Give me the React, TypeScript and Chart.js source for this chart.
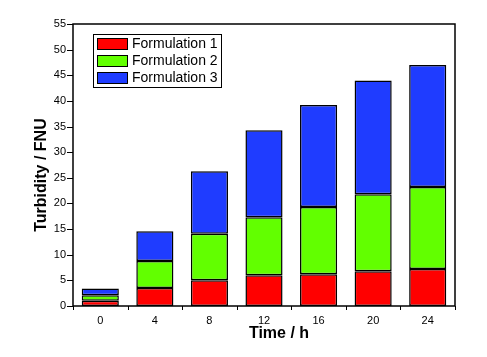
import { useEffect, useRef } from 'react';
import { Chart, registerables } from 'chart.js';

Chart.register(...registerables);

const categories = ['0', '4', '8', '12', '16', '20', '24'];
const formulation1 = [1.0, 3.5, 5.0, 6.0, 6.2, 6.8, 7.2];
const formulation2 = [1.1, 5.3, 9.1, 11.3, 13.1, 15.0, 16.0];
const formulation3 = [1.3, 5.8, 12.2, 17.0, 19.9, 22.2, 23.8];
const seriesLabels = ['Formulation 1', 'Formulation 2', 'Formulation 3'];
const seriesColors = ['#ff0000', '#62ff00', '#1f3cff'];
const yMin = 0;
const yMax = 55;
const yMinorStep = 2.5;
const yMajorStep = 5;
const xTitle = 'Time / h';
const yTitle = 'Turbidity / FNU';

const FONT = '"Liberation Sans", Arial, sans-serif';

const framePlugin = {
  id: 'originFrame',
  afterDraw(chart: any) {
    const { ctx, chartArea, scales } = chart;
    const { left, right, top, bottom } = chartArea;
    const xs = scales.x;
    const ys = scales.y;
    ctx.save();
    ctx.strokeStyle = '#000';
    ctx.lineWidth = 1.5;
    ctx.strokeRect(left, top, right - left, bottom - top);

    // y ticks (major + minor)
    ctx.lineWidth = 1;
    ctx.beginPath();
    for (const t of ys.ticks) {
      const y = Math.round(ys.getPixelForValue(t.value)) + 0.5;
      const major = Math.abs(t.value % yMajorStep) < 1e-6;
      const len = major ? 6 : 3.5;
      ctx.moveTo(left - len, y);
      ctx.lineTo(left, y);
    }
    // x ticks at category boundaries
    const n = categories.length;
    const half = (xs.getPixelForValue(1) - xs.getPixelForValue(0)) / 2;
    for (let i = 0; i <= n; i++) {
      const x = Math.round(xs.getPixelForValue(i) - half) + 0.5;
      ctx.moveTo(x, bottom);
      ctx.lineTo(x, bottom + 4);
    }
    ctx.stroke();

    // axis titles
    ctx.fillStyle = '#000';
    ctx.font = `bold 16px ${FONT}`;
    ctx.textAlign = 'center';
    ctx.textBaseline = 'middle';
    ctx.fillText(xTitle, 279, 334);
    ctx.save();
    ctx.translate(42, 175);
    ctx.rotate(-Math.PI / 2);
    ctx.fillText(yTitle, 0, 0);
    ctx.restore();

    // legend
    const bx = 93, by = 34, bw = 128, bh = 53;
    ctx.lineWidth = 1;
    ctx.strokeRect(bx + 0.5, by + 0.5, bw, bh);
    ctx.font = `14px ${FONT}`;
    ctx.textAlign = 'left';
    chart.data.datasets.forEach((ds: any, i: number) => {
      const sy = 38 + i * 17;
      ctx.fillStyle = ds.backgroundColor;
      ctx.fillRect(97, sy, 31, 12);
      ctx.strokeStyle = '#000';
      ctx.strokeRect(97.5, sy + 0.5, 30, 11);
      ctx.fillStyle = '#000';
      ctx.fillText(ds.label, 132, sy + 6.5);
    });
    ctx.restore();
  },
};

export default function App() {
  const ref = useRef<HTMLCanvasElement>(null);
  useEffect(() => {
    const values = [formulation1, formulation2, formulation3];
    const chart = new Chart(ref.current as HTMLCanvasElement, {
      type: 'bar',
      data: {
        labels: categories,
        datasets: values.map((v, i) => ({
          label: seriesLabels[i],
          data: v,
          backgroundColor: seriesColors[i],
          borderColor: '#000',
          borderWidth: 1.5,
          borderSkipped: false,
          categoryPercentage: 1,
          barPercentage: 0.68,
        })),
      },
      options: {
        animation: false,
        responsive: false,
        devicePixelRatio: 1,
        layout: { padding: { top: 24, right: 32, bottom: 0, left: 0 } },
        plugins: { legend: { display: false }, tooltip: { enabled: false } },
        scales: {
          x: {
            stacked: true,
            grid: { display: false, drawTicks: false },
            border: { display: false },
            ticks: { color: '#000', font: { family: FONT, size: 11 }, padding: 8, maxRotation: 0 },
            afterFit: (s: any) => { s.height = 51; },
          },
          y: {
            stacked: true,
            min: yMin,
            max: yMax,
            grid: { display: false, drawTicks: false },
            border: { display: false },
            ticks: {
              stepSize: yMinorStep,
              color: '#000',
              font: { family: FONT, size: 11 },
              padding: 7,
              callback: (v: any) => (Math.abs(Number(v) % yMajorStep) < 1e-6 ? String(v) : ''),
            },
            afterFit: (s: any) => { s.width = 73; },
          },
        },
      },
      plugins: [framePlugin],
    });
    return () => chart.destroy();
  }, []);
  return (
    <div style={{ position: 'absolute', left: 0, top: 0, width: 487, height: 357, background: '#fff' }}>
      <canvas ref={ref} width={487} height={357} />
    </div>
  );
}
